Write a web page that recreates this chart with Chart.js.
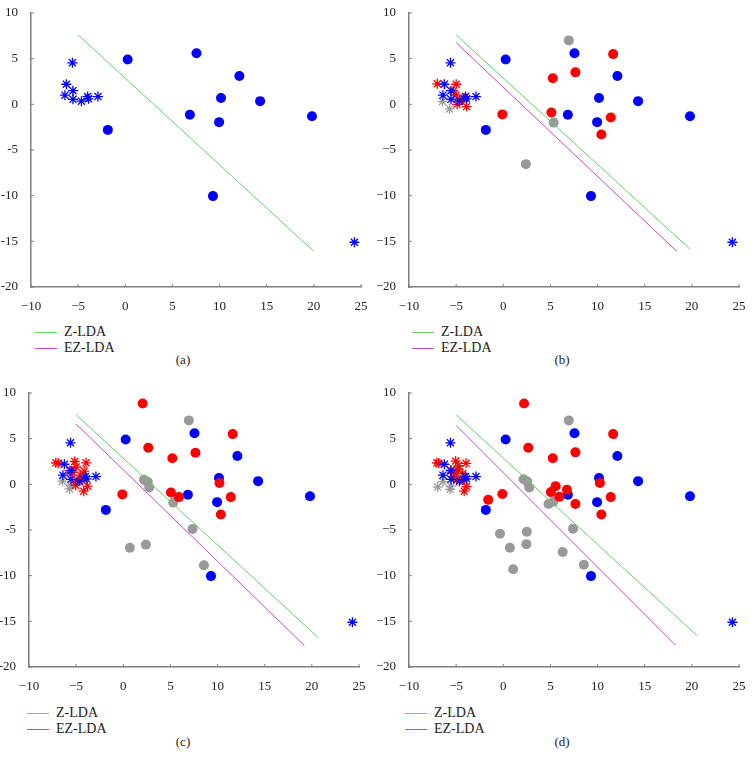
<!DOCTYPE html>
<html>
<head>
<meta charset="utf-8">
<script src="https://cdn.jsdelivr.net/npm/chart.js@4.4.1/dist/chart.umd.min.js"></script>
<style>
  body { margin: 0; width: 754px; height: 765px; background: #fff; position: relative; overflow: hidden;
         font-family: "Liberation Serif", "Times New Roman", Times, serif; color: #222; }
  .box { position: absolute; width: 377px; height: 310px; }
  .leg { position: absolute; font-size: 14px; line-height: 16px; }
  .leg div { position: relative; height: 16px; padding-left: 29px; }
  .leg span { position: absolute; left: 0; top: 8px; width: 22px; border-top: 1px solid; }
  .cap { position: absolute; width: 60px; text-align: center; font-size: 13px; }
</style>
</head>
<body>
<div class="box" style="left:0;top:0"><canvas id="ca"></canvas></div>
<div class="box" style="left:377px;top:0"><canvas id="cb"></canvas></div>
<div class="box" style="left:0;top:380px"><canvas id="cc"></canvas></div>
<div class="box" style="left:377px;top:380px"><canvas id="cd"></canvas></div>

<div class="leg" style="left:35px;top:324px"><div><span style="border-color:#5fd35f"></span>Z-LDA</div><div><span style="border-color:#c646c6"></span>EZ-LDA</div></div>
<div class="leg" style="left:412px;top:324px"><div><span style="border-color:#5fd35f"></span>Z-LDA</div><div><span style="border-color:#c646c6"></span>EZ-LDA</div></div>
<div class="leg" style="left:27px;top:705px"><div><span style="border-color:#5fd35f"></span>Z-LDA</div><div><span style="border-color:#c646c6"></span>EZ-LDA</div></div>
<div class="leg" style="left:405px;top:705px"><div><span style="border-color:#5fd35f"></span>Z-LDA</div><div><span style="border-color:#c646c6"></span>EZ-LDA</div></div>

<div class="cap" style="left:153px;top:352px">(a)</div>
<div class="cap" style="left:532px;top:352px">(b)</div>
<div class="cap" style="left:153px;top:734px">(c)</div>
<div class="cap" style="left:532px;top:734px">(d)</div>

<script>
// shared across all four panels
const blueCircles = [[0.25, 4.9], [7.55, 5.6], [12.1, 3.1], [10.15, 0.7], [14.3, 0.35], [6.85, -1.15],
  [9.95, -1.95], [19.8, -1.3], [-1.85, -2.8], [9.3, -10.05]];
const blueStars = [[-5.6, 4.55], [-6.25, 2.2], [-6.4, 1.0], [-5.55, 1.5], [-5.55, 0.55], [-4.65, 0.35],
  [-4.0, 0.85], [-3.9, 0.6], [-2.9, 0.85], [24.3, -15.1]];

// panel (b)
const redCirclesB = [[11.65, 5.5], [7.65, 3.5], [5.25, 2.85], [-0.1, -1.1], [5.1, -0.9], [11.4, -1.45], [10.4, -3.3]];
const grayCirclesB = [[6.95, 7.0], [5.35, -2.0], [2.4, -6.55]];
const redStarsB = [[-7.0, 2.25], [-5.0, 2.2], [-5.3, 1.5], [-5.0, 1.0], [-4.9, 0.0], [-4.15, 0.7], [-3.9, -0.25], [-4.6, 0.45]];
const grayStarsB = [[-6.45, 0.3], [-5.7, -0.5]];

// panel (c)
const redCirclesC = [[2.05, 8.85], [11.6, 5.5], [2.65, 4.0], [7.65, 3.45], [5.2, 2.85], [-0.1, -1.1], [5.05, -0.9],
  [5.9, -1.4], [10.2, 0.15], [11.4, -1.4], [10.35, -3.3]];
const grayCirclesC = [[6.95, 7.0], [2.2, 0.5], [2.6, 0.25], [2.75, -0.35], [5.3, -2.0], [7.35, -4.9], [0.7, -6.95],
  [2.4, -6.6], [8.55, -8.85]];
const redStarsC = [[-7.15, 2.35], [-6.9, 2.3], [-5.15, 2.5], [-5.0, 1.9], [-5.7, 1.5], [-3.95, 2.35], [-4.15, 1.45],
  [-4.55, 1.0], [-4.9, 0.45], [-5.05, -0.1], [-3.8, -0.2], [-4.2, -0.75], [-4.4, 0.45], [-5.4, 1.3]];
const grayStarsC = [[-6.45, 0.35], [-5.7, -0.5], [-5.55, -0.1]];

// panel (d)
const redCirclesD = [[2.2, 8.85], [11.65, 5.5], [2.65, 4.0], [7.65, 3.5], [5.25, 2.85], [5.55, -0.2], [5.05, -0.85],
  [6.75, -0.6], [5.95, -1.35], [-0.1, -1.05], [-1.6, -1.7], [7.65, -2.15], [10.25, 0.15], [11.4, -1.4], [10.4, -3.3]];
const grayCirclesD = [[6.95, 7.0], [2.15, 0.55], [2.55, 0.3], [2.75, -0.35], [4.8, -2.15], [5.3, -1.9], [7.4, -4.85],
  [-0.35, -5.4], [2.5, -5.2], [0.7, -6.95], [2.45, -6.55], [6.3, -7.4], [1.05, -9.3], [8.55, -8.8]];
const redStarsD = [[-7.05, 2.35], [-6.85, 2.3], [-5.05, 2.55], [-3.95, 2.3], [-5.6, 1.55], [-4.75, 2.05], [-5.0, 1.2],
  [-4.3, 1.2], [-4.6, 0.45], [-4.95, 0.45], [-3.9, -0.25], [-4.15, -0.75], [-4.15, 0.45], [-5.3, 0.85], [-4.8, 1.6]];
const grayStarsD = [[-6.95, -0.3], [-6.4, 0.3], [-5.65, -0.55], [-5.55, -0.2]];

// discriminant lines, end points
const zLineA = [[-5, 7.6], [20, -16.1]];
const zLineB = [[-5, 7.6], [19.8, -15.85]];
const ezLineB = [[-5, 6.75], [18.4, -16.1]];
const zLineC = [[-5, 7.6], [20.7, -16.8]];
const ezLineC = [[-5, 6.6], [19.2, -17.65]];
const zLineD = [[-5, 7.6], [20.6, -16.6]];
const ezLineD = [[-5, 6.45], [18.25, -17.6]];

const xTicks = [-10, -5, 0, 5, 10, 15, 20, 25];
const yTicks = [-20, -15, -10, -5, 0, 5, 10];

const BLUE = '#0000ff', RED = '#ff0000', GRAY = '#999999', GREEN = '#5fd35f', MAGENTA = '#c646c6';
const SERIF = '"Liberation Serif", "Times New Roman", Times, serif';

const pts = arr => arr.map(p => ({ x: p[0], y: p[1] }));

// MATLAB style ticks pointing into the plot
const inwardTicks = {
  id: 'inwardTicks',
  afterDraw(chart) {
    const { ctx, chartArea: a, scales: { x, y } } = chart;
    ctx.save();
    ctx.strokeStyle = '#7f7f7f';
    ctx.lineWidth = 1;
    ctx.beginPath();
    x.ticks.forEach(t => {
      const px = x.getPixelForValue(t.value);
      ctx.moveTo(px, a.bottom);
      ctx.lineTo(px, a.bottom - 3);
    });
    y.ticks.forEach(t => {
      const py = y.getPixelForValue(t.value);
      ctx.moveTo(a.left, py);
      ctx.lineTo(a.left + 3, py);
    });
    ctx.stroke();
    ctx.restore();
  }
};

function circles(data, color) {
  return { data: pts(data), backgroundColor: color, borderColor: color, pointRadius: 5, pointHoverRadius: 5, borderWidth: 0 };
}
function stars(data, color) {
  return { data: pts(data), pointStyle: 'star', borderColor: color, backgroundColor: color, pointRadius: 5, pointHoverRadius: 5, borderWidth: 1.3 };
}
function lineSet(data, color) {
  return { type: 'line', data: pts(data), showLine: true, borderColor: color, borderWidth: 1, pointRadius: 0, fill: false };
}

function makePanel(id, cfg) {
  const sets = [];
  if (cfg.z) sets.push(lineSet(cfg.z, GREEN));
  if (cfg.ez) sets.push(lineSet(cfg.ez, MAGENTA));
  if (cfg.redC) sets.push(circles(cfg.redC, RED));
  sets.push(circles(blueCircles, BLUE));
  if (cfg.grayC) sets.push(circles(cfg.grayC, GRAY));
  sets.push(stars(blueStars, BLUE));
  if (cfg.redS) sets.push(stars(cfg.redS, RED));
  if (cfg.grayS) sets.push(stars(cfg.grayS, GRAY));

  const fmt = minus => v => minus ? String(v).replace('-', '\u2212') : String(v);

  new Chart(document.getElementById(id), {
    type: 'scatter',
    data: { datasets: sets },
    options: {
      responsive: false,
      animation: false,
      events: [],
      clip: false,
      layout: { padding: { top: 13, right: 377 - cfg.right, left: 0, bottom: 0 } },
      plugins: { legend: { display: false }, tooltip: { enabled: false } },
      scales: {
        x: {
          min: -10, max: 25,
          afterBuildTicks: s => { s.ticks = xTicks.map(v => ({ value: v })); },
          afterFit: s => { s.height = 23; },
          grid: { display: false },
          border: { display: true, color: '#7f7f7f', width: 1.5 },
          ticks: { callback: fmt(cfg.xMinus), color: '#222', padding: 4, maxRotation: 0,
                   font: { family: SERIF, size: 13 } }
        },
        y: {
          min: -20, max: 10,
          afterBuildTicks: s => { s.ticks = yTicks.map(v => ({ value: v })); },
          afterFit: s => { s.width = cfg.left; },
          grid: { display: false },
          border: { display: true, color: '#7f7f7f', width: 1.5 },
          ticks: { callback: fmt(cfg.yMinus), color: '#222', padding: 5,
                   font: { family: SERIF, size: 13 } }
        }
      }
    },
    plugins: [inwardTicks]
  });
}

Chart.defaults.font.family = SERIF;

['ca', 'cb', 'cc', 'cd'].forEach(id => {
  const c = document.getElementById(id);
  c.width = 377; c.height = 310;
});

makePanel('ca', { z: zLineA, left: 31, right: 361, xMinus: true, yMinus: false });
makePanel('cb', { z: zLineB, ez: ezLineB, redC: redCirclesB, grayC: grayCirclesB, redS: redStarsB, grayS: grayStarsB,
  left: 32, right: 362, xMinus: true, yMinus: true });
makePanel('cc', { z: zLineC, ez: ezLineC, redC: redCirclesC, grayC: grayCirclesC, redS: redStarsC, grayS: grayStarsC,
  left: 29, right: 359, xMinus: true, yMinus: false });
makePanel('cd', { z: zLineD, ez: ezLineD, redC: redCirclesD, grayC: grayCirclesD, redS: redStarsD, grayS: grayStarsD,
  left: 32, right: 362, xMinus: true, yMinus: true });
</script>
</body>
</html>
